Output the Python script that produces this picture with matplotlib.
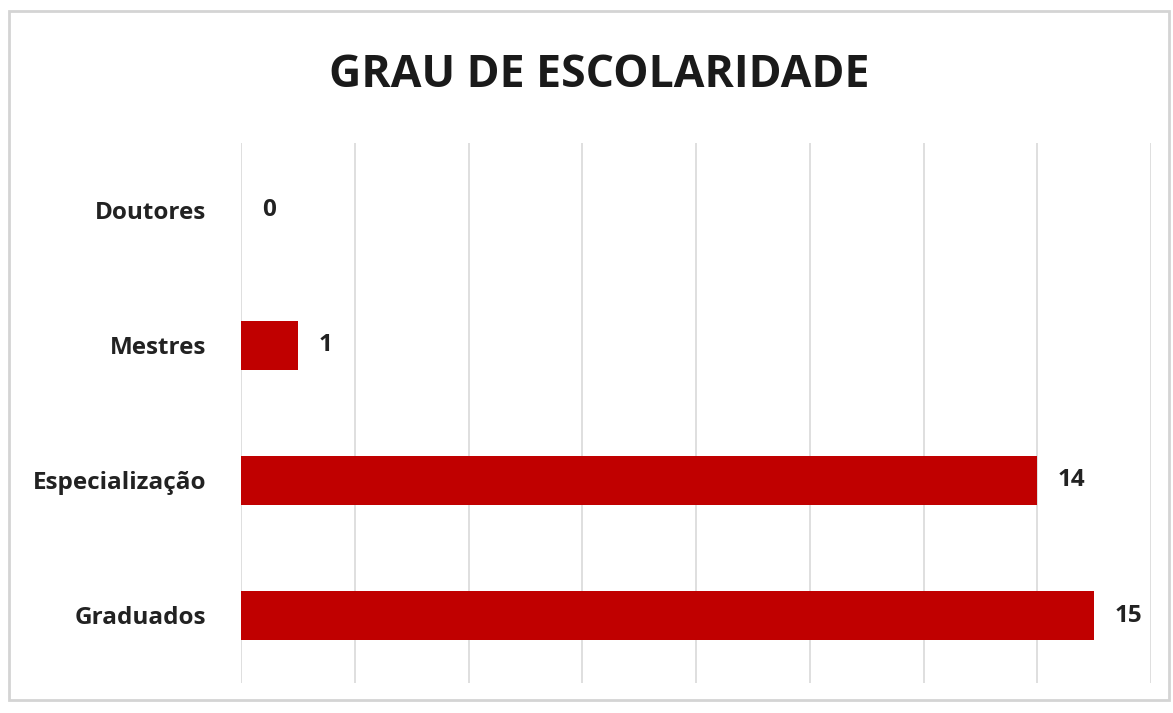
import matplotlib
matplotlib.use("Agg")
import matplotlib.pyplot as plt
from matplotlib.patches import Rectangle

categories = ["Graduados", "Especialização", "Mestres", "Doutores"]
values = [15, 14, 1, 0]
title = "GRAU DE ESCOLARIDADE"

W, H = 1173, 713
fig = plt.figure(figsize=(W / 100, H / 100), dpi=100)
fig.patch.set_facecolor("white")

# outer border
fig.patches.append(Rectangle((9 / W, 1 - 700 / H), (1169 - 9) / W, (700 - 11) / H,
                             transform=fig.transFigure, fill=False,
                             edgecolor="#d4d4d4", linewidth=2))

ax = fig.add_axes([241 / W, 1 - 683 / H, (1151 - 241) / W, (683 - 143) / H])
ypos = list(range(len(categories)))
ax.barh(ypos, values, height=0.36, color="#C00000", linewidth=0, zorder=3)
ax.set_xlim(0, 16)
ax.set_ylim(-0.5, 3.5)
ax.set_xticks(range(0, 17, 2))
ax.xaxis.grid(True, color="#d9d9d9", linewidth=1.2, zorder=0)
ax.tick_params(axis="x", length=0, labelbottom=False)
ax.tick_params(axis="y", length=0, pad=25)
ax.set_yticks(ypos)
ax.set_yticklabels(categories, fontsize=17.5, fontweight="bold", family="Open Sans", color="#222222")
for s in ax.spines.values():
    s.set_visible(False)

for y, v in zip(ypos, values):
    ax.annotate(str(v), xy=(v, y), xytext=(15, 0), textcoords="offset points",
                ha="left", va="center", fontsize=17.5, fontweight="bold",
                family="Open Sans", color="#222222")

fig.text(599 / W, 1 - 87 / H, title, ha="center", va="baseline", fontsize=32,
         fontweight="bold", family="Open Sans", color="#1a1a1a")

fig.savefig("out.png", dpi=100)
